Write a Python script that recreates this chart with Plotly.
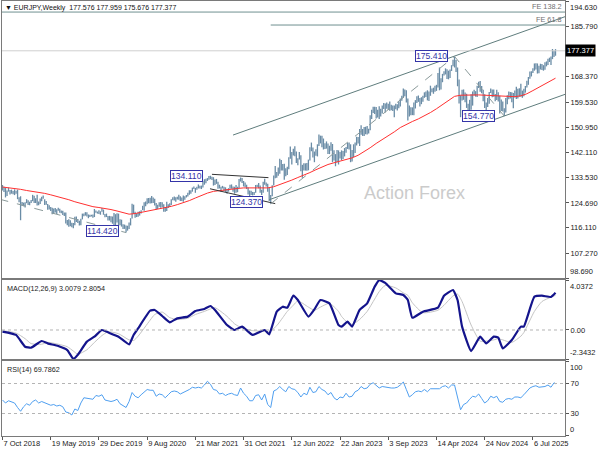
import pandas as pd
import plotly.graph_objects as go

# ---------------- data ----------------
symbol_title = "EURJPY,Weekly"
first_week = "2018-10-07"
title_ohlc = ["177.576", "177.959", "175.676", "177.377"]

high = [
    130.9, 130.3, 129.9, 129.0, 130.0, 129.2, 129.3, 128.8, 129.4, 128.9,
    129.3, 126.7, 127.0, 125.0, 124.8, 124.9, 126.0, 125.6, 125.1, 125.7,
    127.5, 127.2, 126.3, 127.5, 125.2, 126.2, 126.8, 127.3, 126.0, 125.4,
    124.3, 123.9, 123.3, 123.0, 122.8, 122.9, 122.5, 123.0, 122.7, 122.1,
    122.0, 121.4, 121.4, 118.8, 119.0, 118.7, 117.8, 117.7, 119.9, 120.0,
    119.1, 118.5, 119.2, 121.0, 121.0, 121.5, 121.5, 120.7, 120.6, 120.6,
    120.7, 122.6, 122.1, 121.7, 122.2, 121.8, 122.9, 122.4, 120.9, 121.0,
    120.2, 120.2, 120.1, 120.0, 121.2, 120.8, 121.1, 121.0, 119.0, 118.9,
    117.3, 117.2, 116.9, 116.8, 117.9, 119.4, 124.4, 124.1, 121.6, 121.0,
    121.6, 121.8, 122.2, 123.7, 124.9, 125.2, 126.3, 126.4, 126.5, 127.1,
    126.6, 126.1, 124.7, 124.1, 124.9, 125.0, 124.9, 124.2, 123.3, 125.1,
    124.2, 124.6, 126.0, 126.7, 126.9, 126.7, 126.8, 127.5, 127.0, 126.6,
    127.3, 127.0, 127.4, 128.2, 129.1, 129.1, 130.0, 130.4, 129.9, 130.3,
    131.1, 130.6, 130.7, 132.3, 132.9, 133.1, 133.3, 134.0, 134.1, 133.8,
    133.6, 132.8, 133.0, 132.0, 131.0, 130.3, 130.6, 130.3, 130.1, 129.5,
    129.8, 131.0, 131.1, 130.4, 130.3, 130.9, 130.3, 133.0, 133.5, 133.3,
    132.3, 131.8, 131.0, 130.0, 129.0, 128.9, 128.5, 128.5, 130.9, 131.0,
    131.6, 130.7, 129.3, 132.0, 133.1, 131.8, 131.3, 129.9, 127.4, 130.8,
    134.2, 137.5, 135.4, 137.0, 140.0, 139.6, 138.2, 138.3, 136.7, 137.2,
    140.5, 144.2, 142.3, 143.5, 144.3, 142.5, 140.2, 142.3, 141.2, 137.9,
    138.4, 138.4, 138.5, 139.7, 144.0, 145.6, 143.9, 142.5, 143.3, 145.0,
    148.4, 148.0, 148.0, 147.0, 145.4, 146.0, 145.3, 144.5, 145.7, 145.1,
    142.9, 141.6, 143.0, 142.9, 142.3, 142.9, 142.7, 143.7, 144.1, 145.5,
    145.6, 145.0, 143.0, 145.0, 145.6, 147.6, 147.5, 150.3, 151.6, 150.3,
    151.0, 151.1, 151.3, 150.4, 155.1, 157.0, 158.0, 158.0, 157.9, 157.0,
    158.2, 157.3, 158.4, 159.3, 159.1, 159.5, 159.0, 159.8, 158.7, 158.4,
    158.4, 159.0, 158.9, 159.7, 160.9, 161.8, 164.3, 164.0, 163.7, 160.9,
    158.4, 157.8, 157.8, 159.5, 160.3, 161.6, 161.9, 161.0, 161.3, 161.8,
    163.0, 163.3, 163.7, 163.3, 165.3, 164.3, 164.6, 165.3, 165.6, 169.7,
    171.6, 167.9, 169.4, 170.3, 171.3, 171.0, 170.5, 170.9, 172.4, 174.3,
    175.41, 174.2, 171.6, 167.4, 162.0, 163.9, 164.0, 162.9, 162.5, 159.0,
    160.4, 162.3, 163.3, 163.9, 163.4, 165.3, 166.7, 166.9, 165.2, 163.9,
    162.3, 159.5, 161.0, 163.1, 164.3, 164.0, 164.0, 162.4, 163.9, 163.0,
    161.8, 160.5, 159.8, 157.5, 161.0, 162.0, 163.3, 163.1, 163.0, 162.8,
    163.6, 164.9, 164.2, 164.4, 166.0, 163.6, 164.2, 165.2, 167.0, 168.3,
    170.2, 170.3, 171.3, 173.0, 173.1, 173.0, 172.2, 172.9, 172.8, 172.4,
    173.4, 173.7, 174.6, 175.0, 175.4, 178.0, 177.4, 177.959,
]

low = [
    129.0, 128.5, 126.6, 127.1, 128.6, 127.6, 127.9, 127.7, 127.4, 127.9,
    126.0, 124.9, 118.7, 123.6, 123.5, 123.1, 124.6, 124.0, 123.9, 124.7,
    125.3, 124.7, 124.7, 123.8, 123.9, 124.3, 125.3, 126.1, 124.0, 124.1,
    122.3, 122.4, 121.9, 120.8, 120.9, 121.4, 120.9, 122.0, 121.3, 121.1,
    120.5, 120.2, 117.6, 117.0, 116.4, 116.6, 116.3, 115.9, 117.0, 118.1,
    117.7, 116.9, 117.0, 119.0, 120.1, 120.3, 120.0, 119.4, 119.8, 120.0,
    119.6, 119.8, 121.3, 121.0, 120.9, 120.6, 121.6, 120.6, 119.7, 119.8,
    118.6, 118.6, 118.0, 117.5, 116.4, 116.0, 117.9, 116.8, 117.0, 116.5,
    115.7, 115.7, 114.42, 115.1, 115.7, 116.9, 119.3, 120.9, 119.6, 119.8,
    119.9, 120.3, 121.0, 122.2, 122.0, 123.5, 124.2, 124.6, 124.5, 124.6,
    124.7, 123.8, 122.4, 122.6, 123.4, 123.0, 123.2, 121.6, 121.6, 121.9,
    122.9, 123.4, 124.0, 125.6, 125.5, 125.1, 125.9, 125.8, 125.4, 125.4,
    125.1, 125.8, 126.6, 126.9, 127.5, 127.9, 128.6, 129.5, 128.2, 129.3,
    129.7, 129.7, 129.5, 130.0, 131.0, 131.5, 132.3, 132.7, 132.9, 132.6,
    130.7, 130.9, 131.3, 129.6, 129.7, 128.6, 129.7, 128.8, 128.5, 127.9,
    128.6, 129.6, 129.6, 128.6, 127.9, 128.2, 128.4, 129.9, 132.1, 131.6,
    130.4, 130.2, 129.5, 127.6, 127.0, 127.4, 127.3, 127.4, 128.2, 130.2,
    129.8, 128.2, 127.4, 128.2, 131.0, 130.4, 128.6, 125.4, 124.37, 127.0,
    130.7, 133.2, 133.4, 134.1, 134.8, 135.9, 135.9, 132.7, 133.9, 134.4,
    136.4, 140.0, 138.0, 141.1, 140.9, 138.5, 137.7, 139.7, 135.7, 133.4,
    135.9, 135.9, 135.8, 136.0, 139.4, 142.6, 140.4, 138.8, 141.0, 140.8,
    144.4, 145.3, 144.0, 143.2, 143.4, 143.5, 141.6, 141.6, 142.8, 138.8,
    139.4, 137.4, 138.8, 138.0, 140.1, 139.5, 139.9, 140.8, 142.1, 143.4,
    143.2, 138.8, 139.0, 140.6, 142.0, 144.6, 145.3, 144.4, 148.3, 147.9,
    147.9, 148.5, 148.4, 148.7, 149.9, 153.8, 155.8, 155.5, 153.9, 154.3,
    153.8, 154.6, 155.7, 157.2, 156.0, 157.3, 156.9, 156.6, 156.8, 156.5,
    154.4, 157.1, 156.7, 157.5, 158.1, 160.1, 161.0, 161.6, 159.5, 153.2,
    154.6, 155.1, 155.1, 155.1, 157.4, 159.3, 159.7, 158.1, 158.9, 159.7,
    161.1, 161.4, 160.2, 160.0, 161.8, 163.0, 162.5, 163.2, 163.5, 164.7,
    163.7, 164.0, 166.5, 168.8, 169.2, 167.6, 167.5, 168.0, 170.4, 172.0,
    171.6, 170.0, 165.1, 159.1, 154.4, 160.2, 160.4, 159.6, 157.6, 155.9,
    155.15, 157.0, 158.4, 161.9, 161.5, 161.4, 164.5, 163.2, 162.7, 159.9,
    157.6, 156.9, 157.9, 159.0, 162.8, 161.3, 161.5, 159.9, 160.3, 159.8,
    155.7, 156.5, 156.4, 154.77, 156.0, 158.9, 160.6, 160.9, 159.6, 157.5,
    161.2, 160.7, 160.9, 161.5, 161.5, 161.1, 161.6, 162.9, 164.7, 165.6,
    167.7, 168.5, 169.7, 170.5, 170.9, 169.5, 169.6, 170.9, 170.7, 170.5,
    170.8, 172.0, 172.5, 173.5, 172.5, 174.5, 175.2, 175.676,
]

close = [
    129.9, 128.9, 127.1, 128.9, 128.8, 128.6, 128.3, 128.5, 128.3, 128.0,
    126.4, 126.2, 124.0, 124.3, 124.1, 124.6, 125.6, 124.3, 124.5, 125.5,
    126.6, 125.0, 126.1, 124.3, 124.6, 125.9, 126.6, 126.2, 124.4, 124.5,
    123.3, 122.5, 122.7, 120.9, 122.3, 121.6, 122.2, 122.2, 121.7, 121.8,
    121.4, 120.4, 117.6, 118.4, 117.9, 117.2, 116.6, 117.4, 119.5, 118.4,
    118.0, 117.2, 119.2, 121.0, 120.5, 120.9, 120.4, 120.3, 120.2, 120.6,
    120.0, 121.8, 121.4, 121.6, 121.2, 121.6, 122.1, 120.8, 120.3, 120.2,
    118.8, 120.0, 119.1, 119.3, 118.7, 118.4, 120.6, 117.2, 118.5, 116.7,
    116.0, 117.0, 115.7, 115.7, 117.4, 119.3, 123.9, 121.0, 120.3, 120.7,
    120.6, 121.5, 122.0, 123.4, 124.8, 124.2, 126.1, 124.9, 125.8, 125.9,
    125.8, 124.3, 122.8, 123.5, 124.9, 123.4, 124.0, 121.9, 122.8, 124.1,
    123.6, 124.3, 125.9, 126.0, 126.6, 126.2, 126.2, 126.7, 125.8, 125.8,
    127.1, 126.9, 127.0, 127.9, 128.6, 129.0, 129.9, 129.8, 129.8, 129.8,
    130.4, 130.1, 130.4, 131.4, 132.4, 132.7, 132.8, 133.6, 133.3, 133.3,
    131.2, 132.2, 131.7, 130.4, 129.9, 130.0, 130.2, 129.7, 129.1, 128.7,
    129.7, 130.6, 130.2, 128.9, 130.0, 129.3, 129.9, 132.6, 132.6, 131.8,
    130.6, 130.4, 129.6, 128.0, 127.6, 128.0, 127.6, 128.2, 130.9, 130.8,
    130.6, 128.3, 128.2, 131.9, 131.7, 130.6, 129.4, 126.1, 127.4, 130.6,
    134.2, 134.9, 133.7, 136.0, 139.2, 137.5, 137.6, 135.5, 135.3, 136.4,
    140.3, 141.5, 141.2, 142.8, 141.4, 138.6, 139.8, 139.9, 136.3, 137.1,
    137.9, 137.3, 136.5, 139.7, 144.0, 143.4, 141.0, 141.8, 142.0, 144.6,
    146.6, 146.8, 146.0, 143.9, 144.7, 144.6, 141.7, 143.7, 144.4, 141.6,
    140.8, 140.9, 138.9, 140.4, 141.6, 142.6, 140.8, 143.4, 144.0, 144.8,
    144.0, 140.4, 140.9, 144.6, 145.2, 146.8, 147.3, 150.1, 149.5, 148.3,
    149.2, 150.5, 150.0, 150.5, 154.8, 156.0, 157.4, 157.0, 155.7, 156.9,
    156.2, 155.9, 158.2, 158.5, 158.0, 158.6, 157.9, 157.7, 157.8, 157.8,
    158.1, 157.3, 158.7, 158.9, 160.1, 161.4, 163.2, 163.2, 160.0, 156.1,
    155.4, 156.6, 155.8, 158.6, 159.8, 161.2, 160.4, 159.6, 160.8, 161.5,
    162.6, 162.6, 161.0, 162.0, 163.7, 163.4, 164.3, 163.5, 164.7, 169.7,
    164.9, 167.8, 169.1, 170.2, 170.6, 169.1, 168.4, 170.8, 172.3, 174.0,
    172.1, 171.3, 166.7, 159.3, 161.6, 163.5, 162.0, 161.7, 158.0, 156.5,
    160.2, 158.9, 162.9, 162.8, 162.4, 164.6, 165.7, 164.3, 163.0, 160.6,
    158.4, 158.3, 160.6, 162.9, 163.9, 162.1, 162.0, 160.9, 163.6, 160.9,
    157.6, 159.3, 157.0, 156.3, 160.6, 161.7, 161.3, 162.0, 161.0, 162.6,
    163.4, 163.2, 163.8, 163.6, 162.9, 162.4, 163.4, 165.0, 166.3, 167.9,
    169.4, 170.0, 171.0, 172.8, 172.3, 170.7, 171.8, 172.0, 172.4, 171.5,
    172.7, 172.8, 174.0, 174.4, 173.0, 176.5, 176.0, 177.377,
]
first_open = 130.6
last_open = 177.576

# red moving average, sampled every 4th week (last point = last week)
ma_week = list(range(0, 365, 4)) + [367]
ma_val = [
    130.2, 130.0, 129.8, 129.4, 129.0, 128.7, 128.3, 128.0, 127.5, 127.0,
    126.5, 125.8, 125.1, 124.5, 123.9, 123.4, 123.1, 122.8, 122.4, 121.9,
    121.3, 120.8, 121.0, 121.4, 121.9, 122.4, 122.8, 123.1, 123.5, 124.1,
    124.7, 125.5, 126.4, 127.3, 128.1, 128.7, 129.0, 129.3, 129.5, 129.7,
    129.9, 129.9, 130.0, 130.0, 129.9, 130.3, 131.0, 131.8, 132.6, 133.5,
    134.3, 135.2, 136.2, 137.2, 138.0, 138.6, 139.1, 139.7, 140.3, 141.2,
    142.4, 143.8, 145.3, 146.6, 147.9, 149.3, 150.8, 152.0, 152.9, 153.8,
    154.8, 156.0, 157.3, 158.7, 160.0, 161.6, 162.0, 162.1, 162.2, 162.1,
    162.0, 161.9, 161.8, 161.5, 161.4, 161.5, 161.8, 162.5, 163.6, 164.7,
    165.8, 167.0, 167.9,
]

# MACD(12,26,9) main and signal, read at these weeks
macd_week = [0, 9, 15, 19, 26, 30, 37, 43, 47, 50, 56, 61, 66, 70, 77, 84, 87, 90, 98, 101,
             106, 111, 116, 123, 128, 134, 138, 141, 149, 154, 159, 166, 174, 177, 182, 186, 189, 193, 196, 203,
             207, 211, 217, 223, 225, 229, 232, 237, 242, 247, 250, 254, 261, 266, 269, 272, 279, 289, 293, 299,
             302, 305, 311, 317, 321, 326, 329, 332, 338, 344, 346, 353, 358, 364, 367]
macd_main = [-0.13, -0.40, -1.35, -1.43, -0.89, -1.08, -1.29, -1.62, -2.34, -2.00,
             -0.94, -0.54, 0.00, -0.19, -0.54, -1.16, -0.40, 0.13, 1.56, 1.62,
             1.13, 0.62, 0.94, 1.08, 1.53, 1.70, 1.94, 1.62, 0.40, 0.00,
             0.27, -0.40, 0.00, -0.35, 1.48, 1.88, 1.80, 2.77, 2.42, 1.08,
             1.67, 2.42, 2.15, 0.40, 0.27, 0.67, 0.27, 1.62, 2.15, 3.50,
             4.03, 3.80, 2.96, 2.83, 2.42, 0.99, 1.48, 1.80, 2.77, 3.23,
             2.42, 0.27, -1.70, -0.54, -1.08, -0.54, -0.62, -1.48, -0.81, 0.27,
             0.27, 2.69, 2.77, 2.67, 3.0079]
macd_signal = [-0.05, -0.25, -0.70, -1.10, -1.15, -1.00, -1.15, -1.35, -1.70, -1.95,
               -1.60, -1.00, -0.45, -0.15, -0.30, -0.80, -0.85, -0.50, 0.80, 1.25,
               1.45, 1.00, 0.85, 0.95, 1.25, 1.50, 1.70, 1.80, 1.10, 0.50,
               0.15, -0.05, -0.10, -0.15, 0.35, 1.00, 1.50, 2.00, 2.35, 1.85,
               1.60, 1.85, 2.15, 1.50, 1.10, 0.60, 0.45, 0.85, 1.50, 2.50,
               3.10, 3.60, 3.40, 3.00, 2.80, 2.20, 1.40, 1.60, 2.00, 2.75,
               2.90, 2.30, 0.40, -0.90, -0.90, -0.80, -0.70, -0.80, -1.00, -0.50,
               -0.20, 1.50, 2.30, 2.65, 2.8054]
macd_scale = [-2.3432, 4.0372]

# RSI(14), read every 2nd week (last point = last week)
rsi_week = list(range(0, 367, 2)) + [367]
rsi_val = [
    48, 44, 47, 45, 44, 38, 33, 39, 43, 41,
    46, 48, 44, 46, 44, 42, 41, 42, 40, 41,
    39, 32, 31, 28, 36, 34, 44, 51, 50, 49,
    49, 54, 53, 55, 48, 47, 46, 47, 49, 43,
    40, 38, 46, 58, 53, 51, 55, 59, 62, 61,
    61, 53, 56, 55, 51, 55, 59, 60, 59, 56,
    58, 59, 62, 65, 64, 65, 64, 68, 73, 69,
    62, 61, 56, 57, 54, 56, 57, 55, 54, 64,
    57, 53, 47, 47, 54, 55, 48, 56, 42, 38,
    60, 62, 66, 62, 59, 66, 63, 62, 58, 52,
    57, 55, 65, 58, 59, 66, 62, 60, 55, 58,
    51, 48, 52, 51, 57, 52, 53, 59, 61, 66,
    63, 64, 69, 71, 67, 64, 66, 65, 64, 64,
    64, 65, 68, 72, 62, 52, 55, 59, 60, 59,
    62, 59, 63, 63, 63, 63, 66, 67, 64, 68,
    68, 50, 35, 42, 44, 49, 53, 52, 56, 50,
    44, 47, 53, 51, 53, 46, 45, 49, 50, 49,
    52, 52, 51, 55, 59, 64, 66, 67, 65, 65,
    66, 68, 65, 71, 69.7862,
]
rsi_levels = [70, 30]

# swing labels (week, price, text)
swing_week = [82, 138, 178, 300, 333]
swing_price = [114.42, 134.11, 124.37, 175.41, 154.77]
swing_text = ["114.420", "134.110", "124.370", "175.410", "154.770"]

# drawn objects: (week, price) end points
channel_upper = ([153, 376], [148.2, 189.7])
channel_lower = ([177, 376], [125.8, 162.8])
wedge_upper = ([139, 176.5], [134.6, 133.45])
wedge_lower = ([137.7, 181], [129.6, 124.45])
zigzag = ([-2, 82], [126.0, 114.42])
zigzag2 = ([178, 300, 333], [124.37, 175.41, 154.77])
fe_levels = [190.8, 186.31]
fe_text = ["FE 138.2", "FE 61.8"]
fe_start_week = [None, 178]

main_ticks = [194.63, 185.79, 168.37, 159.53, 150.95, 142.11, 133.53, 124.69, 116.11, 107.27, 98.69]
time_label_week = [0, 32, 64, 96, 128, 160, 192, 224, 256, 288, 320, 352]
time_label_text = ["7 Oct 2018", "19 May 2019", "29 Dec 2019", "9 Aug 2020", "21 Mar 2021",
                   "31 Oct 2021", "12 Jun 2022", "22 Jan 2023", "3 Sep 2023", "14 Apr 2024",
                   "24 Nov 2024", "6 Jul 2025"]

# ---------------- figure ----------------
start = pd.Timestamp(first_week)


def wk(i):
    return start + pd.Timedelta(days=7 * i)


dates = [wk(i) for i in range(len(close))]
open_ = [first_open] + close[:-1]
open_[-1] = last_open

FONT = "Liberation Sans, Arial, sans-serif"
BAR = "#6a8ca6"
FRAME = "#7a7a7a"
CH = "#5f7d7d"
LBL = "#3434a8"

fig = go.Figure()
fig.add_trace(go.Ohlc(
    x=dates, open=open_, high=high, low=low, close=close, tickwidth=0,
    increasing=dict(line=dict(color=BAR, width=1.3)),
    decreasing=dict(line=dict(color=BAR, width=1.3)),
    xaxis="x", yaxis="y", hoverinfo="skip", showlegend=False))

fig.add_trace(go.Scatter(x=[wk(i) for i in ma_week], y=ma_val, mode="lines",
                         line=dict(color="#ff3030", width=1), xaxis="x", yaxis="y"))


def seg(pts, color, dash="solid", width=1):
    fig.add_trace(go.Scatter(x=[wk(i) for i in pts[0]], y=pts[1], mode="lines",
                             line=dict(color=color, width=width, dash=dash),
                             xaxis="x", yaxis="y", hoverinfo="skip"))


seg(channel_upper, CH)
seg(channel_lower, CH)
seg(wedge_upper, "#333333")
seg(wedge_lower, "#333333")
seg(zigzag, "#8a9a9a", dash="dash")
seg(zigzag2, "#8a9a9a", dash="dash")

# MACD
fig.add_trace(go.Scatter(x=[wk(i) for i in macd_week], y=macd_signal, mode="lines",
                         line=dict(color="#c4c4c4", width=1, shape="spline", smoothing=0.6),
                         xaxis="x2", yaxis="y2"))
fig.add_trace(go.Scatter(x=[wk(i) for i in macd_week], y=macd_main, mode="lines",
                         line=dict(color="#14148c", width=2.2, shape="spline", smoothing=0.4),
                         xaxis="x2", yaxis="y2"))
# RSI
fig.add_trace(go.Scatter(x=[wk(i) for i in rsi_week], y=rsi_val, mode="lines",
                         line=dict(color="#4f9ff0", width=1), xaxis="x3", yaxis="y3"))

shapes = []
# current price line
shapes.append(dict(type="line", xref="paper", x0=0, x1=1, yref="y", y0=close[-1], y1=close[-1],
                   line=dict(color="#cfcfcf", width=1)))
for lvl, sw in zip(fe_levels, fe_start_week):
    x0 = 0 if sw is None else wk(sw)
    shapes.append(dict(type="line", xref="paper" if sw is None else "x", x0=x0,
                       x1=1 if sw is None else wk(380), yref="y", y0=lvl, y1=lvl,
                       line=dict(color="#6f9090", width=1)))
shapes.append(dict(type="line", xref="paper", x0=0, x1=1, yref="y2", y0=0, y1=0,
                   line=dict(color="#b4b4b4", width=1, dash="dot")))
for lv in rsi_levels:
    shapes.append(dict(type="line", xref="paper", x0=0, x1=1, yref="y3", y0=lv, y1=lv,
                       line=dict(color="#b4b4b4", width=1, dash="dot")))

ann = []
# title
ann.append(dict(xref="paper", yref="paper", x=0, y=1, xanchor="left", yanchor="top", xshift=1, yshift=-1,
                text="▼ " + symbol_title + "\u00a0\u00a0" + " ".join(title_ohlc), showarrow=False,
                font=dict(size=7.0, color="#111111")))
ann.append(dict(xref="paper", yref="y2 domain", x=0, y=1, xanchor="left", yanchor="top", xshift=3, yshift=-2,
                text="MACD(12,26,9) 3.0079 2.8054", showarrow=False, font=dict(size=7.2, color="#222222")))
ann.append(dict(xref="paper", yref="y3 domain", x=0, y=1, xanchor="left", yanchor="top", xshift=3, yshift=-2,
                text="RSI(14) 69.7862", showarrow=False, font=dict(size=7.2, color="#222222")))
ann.append(dict(xref="paper", yref="paper", x=0.826, y=0.5586, text="Action Forex", showarrow=False,
                font=dict(size=18, color="#cbcbcb")))
# swing labels
label_xshift = [-7, -7, -8, -7, -9]
label_yshift = [2, 0, 2, 0, 0]
for w, p, t, dx, dy in zip(swing_week, swing_price, swing_text, label_xshift, label_yshift):
    ann.append(dict(xref="x", yref="y", x=wk(w), y=p, xanchor="right", yanchor="middle",
                    xshift=dx, yshift=dy, text=t, showarrow=False, bgcolor="white",
                    bordercolor=LBL, borderwidth=1, borderpad=0,
                    font=dict(size=8.6, color=LBL)))
# FE labels
for lvl, t in zip(fe_levels, fe_text):
    ann.append(dict(xref="paper", yref="y", x=1, y=lvl, xanchor="right", yanchor="bottom",
                    xshift=-1, yshift=-1, text=t, showarrow=False, font=dict(size=7.3, color="#707070")))
# axis edge labels
edge = [("y", main_ticks[0], "194.630", "top"), ("y", main_ticks[-1], "98.690", "bottom"),
        ("y2", macd_scale[1], "4.0372", "top"), ("y2", macd_scale[0], "-2.3432", "bottom"),
        ("y3", 100, "100", "top"), ("y3", 0, "0", "bottom")]
for yr, v, t, anc in edge:
    ann.append(dict(xref="paper", yref=yr, x=1, y=v, xanchor="left", yanchor=anc, xshift=3,
                    text=t, showarrow=False, font=dict(size=7.5, color="#1a1a1a")))
# current price tag
ann.append(dict(xref="paper", yref="y", x=1, y=close[-1], xanchor="left", yanchor="middle", xshift=0,
                text="177.377", showarrow=False, bgcolor="black", borderpad=1,
                font=dict(size=7.5, color="white")))

xr = [wk(-0.33), wk(373.3)]
ax_common = dict(showgrid=False, zeroline=False, showline=True, mirror=True, linecolor=FRAME, linewidth=1)
yax_common = dict(showgrid=False, zeroline=False, showline=True, mirror=True, linecolor=FRAME, linewidth=1,
                  side="right", ticks="outside", ticklen=3, tickcolor="#555555",
                  tickfont=dict(size=7.5, color="#1a1a1a"))

fig.update_layout(
    width=600, height=450, margin=dict(l=2, r=35, t=1, b=14),
    paper_bgcolor="white", plot_bgcolor="white", showlegend=False,
    font=dict(family=FONT, size=7.5, color="#1a1a1a"),
    shapes=shapes, annotations=ann,
    xaxis=dict(anchor="y", range=xr, type="date", showticklabels=False, ticks="",
               rangeslider=dict(visible=False), **ax_common),
    xaxis2=dict(anchor="y2", matches="x", showticklabels=False, ticks="", **ax_common),
    xaxis3=dict(anchor="y3", matches="x", tickvals=[wk(i) for i in time_label_week], ticktext=time_label_text,
                ticks="outside", ticklen=3, tickcolor="#555555", ticklabelposition="outside right",
                tickangle=0, tickfont=dict(size=7.5, color="#1a1a1a"), **ax_common),
    yaxis=dict(anchor="x", domain=[0.3632, 1.0], range=[main_ticks[-1], main_ticks[0]],
               tickvals=main_ticks, ticktext=[""] + [f"{v:.3f}" for v in main_ticks[1:-1]] + [""],
               **yax_common),
    yaxis2=dict(anchor="x2", domain=[0.1770, 0.3586], range=macd_scale,
                tickvals=[macd_scale[1], 0, macd_scale[0]], ticktext=["", "0.00", ""], **yax_common),
    yaxis3=dict(anchor="x3", domain=[0.0, 0.1724], range=[0, 100],
                tickvals=[100, 70, 30, 0], ticktext=["", "70", "30", ""], **yax_common),
)

# the page's default 8px body margin would push the 600x450 figure out of the window
fig.write_html("out.html", config={"displayModeBar": False, "staticPlot": True},
               post_script="document.body.style.margin='0';document.body.style.overflow='hidden';")
